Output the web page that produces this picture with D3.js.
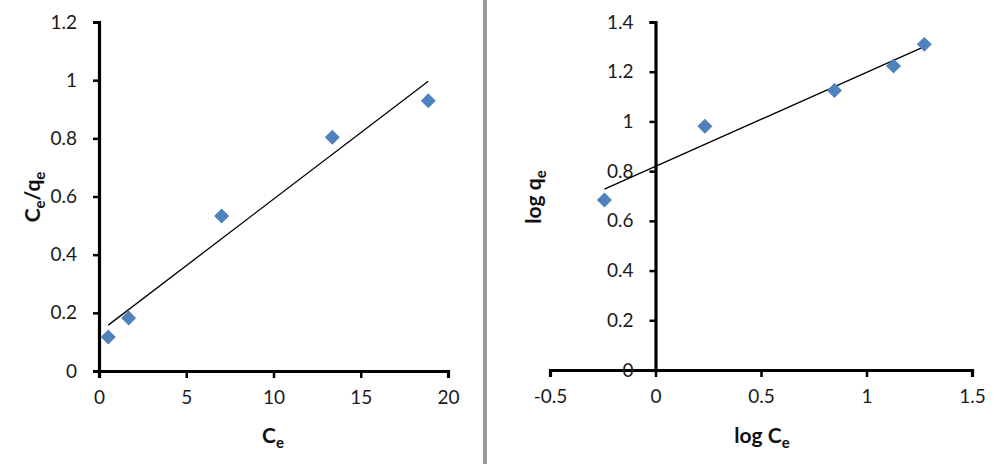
<!DOCTYPE html>
<html>
<head>
<meta charset="utf-8">
<script src="https://cdn.jsdelivr.net/npm/d3@7"></script>
<style>
  html, body { margin: 0; padding: 0; background: #fff; }
  svg { display: block; }
</style>
</head>
<body>
<div id="chart"></div>
<script>
// Langmuir: Ce vs Ce/qe
const ceLangmuir = [0.53, 1.70, 7.03, 13.37, 18.87];
const ceQeLangmuir = [0.117, 0.182, 0.533, 0.804, 0.929];
const xTicksLangmuir = [0, 5, 10, 15, 20];
const yTicksLangmuir = [0, 0.2, 0.4, 0.6, 0.8, 1, 1.2];

// Freundlich: log Ce vs log qe
const logCe = [-0.242, 0.234, 0.848, 1.128, 1.274];
const logQe = [0.684, 0.981, 1.124, 1.223, 1.310];
const xTicksFreundlich = [-0.5, 0, 0.5, 1, 1.5];
const yTicksFreundlich = [0, 0.2, 0.4, 0.6, 0.8, 1, 1.2, 1.4];

const fuente = "Lato, 'Open Sans', sans-serif";
const width = 1000, height = 464;
const svg = d3.select("#chart").append("svg").attr("width", width).attr("height", height);

// separador gris entre los dos paneles
svg.append("line").attr("x1", 485).attr("x2", 485).attr("y1", 0).attr("y2", height)
  .attr("stroke", "#9a9a9a").attr("stroke-width", 4);

const fmt = (d) => String(+d.toFixed(2));

function regresion(xs, ys) {
  const mx = d3.mean(xs), my = d3.mean(ys);
  const sxy = d3.sum(xs, (x, i) => (x - mx) * (ys[i] - my));
  const sxx = d3.sum(xs, (x) => (x - mx) ** 2);
  const m = sxy / sxx;
  return { m, b: my - m * mx };
}

function panel(cfg) {
  const g = svg.append("g");
  const x = d3.scaleLinear().domain(d3.extent(cfg.xTicks)).range(cfg.xRange);
  const y = d3.scaleLinear().domain(d3.extent(cfg.yTicks)).range(cfg.yRange);

  const ax = g.append("g").attr("transform", `translate(0,${y(0)})`)
    .call(d3.axisBottom(x).tickValues(cfg.xTicks).tickFormat(fmt).tickSizeOuter(0).tickSize(7).tickPadding(13));
  const ay = g.append("g").attr("transform", `translate(${x(0)},0)`)
    .call(d3.axisLeft(y).tickValues(cfg.yTicks).tickFormat(fmt).tickSizeOuter(0).tickSize(6).tickPadding(16));
  [ax, ay].forEach((a) => {
    a.attr("font-family", fuente).attr("font-size", 19);
    a.select(".domain").attr("stroke", "#000").attr("stroke-width", 3.2);
    a.selectAll(".tick line").attr("stroke", "#000").attr("stroke-width", 2.5);
    a.selectAll(".tick text").attr("fill", "#1a1a1a");
  });

  // línea de tendencia (mínimos cuadrados)
  const r = regresion(cfg.xs, cfg.ys);
  const [x0, x1] = d3.extent(cfg.xs);
  g.append("line")
    .attr("x1", x(x0)).attr("y1", y(r.m * x0 + r.b))
    .attr("x2", x(x1)).attr("y2", y(r.m * x1 + r.b))
    .attr("stroke", "#000").attr("stroke-width", 1.3);

  // puntos (rombos)
  const sym = d3.symbol(d3.symbolSquare, 112);
  g.selectAll("path.pt").data(cfg.xs).join("path").attr("class", "pt")
    .attr("d", sym)
    .attr("transform", (d, i) => `translate(${x(d)},${y(cfg.ys[i])}) rotate(45)`)
    .attr("fill", "#4f81bd");

  // título eje x
  const tx = g.append("text").attr("font-family", fuente).attr("font-size", 21).attr("font-weight", "bold")
    .attr("fill", "#111").attr("text-anchor", "middle")
    .attr("x", cfg.xTitleX).attr("y", 443);
  tx.append("tspan").text(cfg.xTitle);
  tx.append("tspan").attr("font-size", 15).attr("dy", 5).text("e");

  // título eje y
  const ty = g.append("text").attr("font-family", fuente).attr("font-size", 21).attr("font-weight", "bold")
    .attr("fill", "#111").attr("text-anchor", "middle")
    .attr("transform", `translate(${cfg.yTitleX},197) rotate(-90)`);
  cfg.yTitle.forEach((p) => {
    const t = ty.append("tspan").text(p.t);
    if (p.sub) t.attr("font-size", 15).attr("dy", 5);
    else if (p.up) t.attr("dy", -5);
  });
}

panel({
  xs: ceLangmuir, ys: ceQeLangmuir,
  xTicks: xTicksLangmuir, yTicks: yTicksLangmuir,
  xRange: [99, 448], yRange: [371, 22],
  xTitle: "C", xTitleX: 273,
  yTitle: [{ t: "C" }, { t: "e", sub: true }, { t: "/q", up: true }, { t: "e", sub: true }],
  yTitleX: 40
});

panel({
  xs: logCe, ys: logQe,
  xTicks: xTicksFreundlich, yTicks: yTicksFreundlich,
  xRange: [550, 972], yRange: [370, 22],
  xTitle: "log C", xTitleX: 762,
  yTitle: [{ t: "log q" }, { t: "e", sub: true }],
  yTitleX: 541
});
</script>
</body>
</html>
